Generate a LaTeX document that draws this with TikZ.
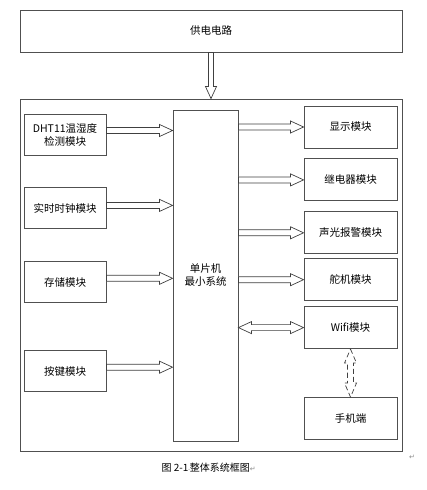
\documentclass[tikz,border=0pt]{standalone}
\usepackage{fontspec}
\setmainfont{Noto Sans CJK SC}
\newfontfamily\symfont{DejaVu Sans}
\usepackage{xcolor}
\definecolor{boxline}{HTML}{505050}
\definecolor{markgray}{HTML}{8A8A8A}
\usetikzlibrary{positioning,calc}

% hollow block arrows, drawn as outlines
\newcommand{\harrow}[3][]{\draw[fat,#1] let \p1=#2, \p2=#3 in
  (\x1,\y1+3pt) -- (\x2-13pt,\y1+3pt) -- (\x2-13pt,\y1+6pt) -- (\x2,\y1)
  -- (\x2-13pt,\y1-6pt) -- (\x2-13pt,\y1-3pt) -- (\x1,\y1-3pt) -- cycle;}
\newcommand{\hbiarrow}[3][]{\draw[fat,#1] let \p1=#2, \p2=#3 in
  (\x1,\y1) -- (\x1+13pt,\y1+6pt) -- (\x1+13pt,\y1+3pt) -- (\x2-13pt,\y1+3pt)
  -- (\x2-13pt,\y1+6pt) -- (\x2,\y1) -- (\x2-13pt,\y1-6pt) -- (\x2-13pt,\y1-3pt)
  -- (\x1+13pt,\y1-3pt) -- (\x1+13pt,\y1-6pt) -- cycle;}
\newcommand{\varrow}[3][]{\draw[fat,#1] let \p1=#2, \p2=#3 in
  (\x1-2.5pt,\y1) -- (\x1-2.5pt,\y2+12pt) -- (\x1-5.5pt,\y2+12pt) -- (\x1,\y2)
  -- (\x1+5.5pt,\y2+12pt) -- (\x1+2.5pt,\y2+12pt) -- (\x1+2.5pt,\y1) -- cycle;}
\newcommand{\vbiarrow}[3][]{\draw[fat,#1] let \p1=#2, \p2=#3 in
  (\x1,\y1) -- (\x1+6pt,\y1-14pt) -- (\x1+3pt,\y1-14pt) -- (\x1+3pt,\y2+14pt)
  -- (\x1+6pt,\y2+14pt) -- (\x1,\y2) -- (\x1-6pt,\y2+14pt) -- (\x1-3pt,\y2+14pt)
  -- (\x1-3pt,\y1-14pt) -- (\x1-6pt,\y1-14pt) -- cycle;}

\begin{document}
\begin{tikzpicture}[
  x=1pt,y=-1pt,
  box/.style={draw=boxline,line width=0.9pt,align=center,inner sep=1pt,font=\fontsize{10.5}{13}\selectfont},
  leftbox/.style={box,minimum width=82pt,minimum height=41pt},
  rightbox/.style={box,minimum width=93pt,minimum height=42pt},
  fat/.style={draw=black!75,fill=white,line width=0.7pt,line join=miter}
]
\useasboundingbox (0,0) rectangle (427,490);
\node[box,minimum width=382pt,minimum height=352pt] (frame) at (211,275) {};
\node[box,minimum width=382pt,minimum height=42pt] (power) at (211,31) {供电电路};
\node[box,minimum width=65pt,minimum height=331pt] (mcu) at (205.5,275.5) {单片机\\最小系统};
% left column
\node[leftbox] (dht) at (65,134.5) {DHT11温湿度\\检测模块};
\node[leftbox,below=32pt of dht] (clock) {实时时钟模块};
\node[leftbox,below=32pt of clock] (store) {存储模块};
\node[leftbox,below=47pt of store] (keys) {按键模块};
% right column
\node[rightbox] (disp) at (350.5,127) {显示模块};
\node[rightbox,below=10pt of disp] (relay) {继电器模块};
\node[rightbox,below=10pt of relay] (alarm) {声光报警模块};
\node[rightbox,below=4pt of alarm] (servo) {舵机模块};
\node[rightbox,below=5pt of servo] (wifi) {Wifi模块};
\node[rightbox,below=48pt of wifi] (phone) {手机端};
\node[font=\fontsize{10}{12}\selectfont,anchor=west] (cap) at (158,468)
  {图 2-1{\symfont\tiny ·}整体系统框图{\color{markgray}\symfont\scriptsize ↵}};
\node[color=markgray,font=\symfont\scriptsize] (mark) at (412,457) {↵};

\varrow{(power.south)}{(frame.north)}
\harrow{([yshift=4pt]dht.east)}{(mcu.west)}
\harrow{([yshift=3pt]clock.east)}{(mcu.west)}
\harrow{([yshift=4pt]store.east)}{(mcu.west)}
\harrow{([yshift=4pt]keys.east)}{(mcu.west)}
\harrow{(mcu.east |- disp.west)}{(disp.west)}
\harrow{(mcu.east |- relay.west)}{(relay.west)}
\harrow{(mcu.east |- alarm.west)}{(alarm.west)}
\harrow{(mcu.east |- servo.west)}{(servo.west)}
\hbiarrow{(mcu.east |- wifi.west)}{(wifi.west)}
\vbiarrow[dash pattern=on 5pt off 3pt]{(wifi.south)}{(phone.north)}
\end{tikzpicture}
\end{document}
